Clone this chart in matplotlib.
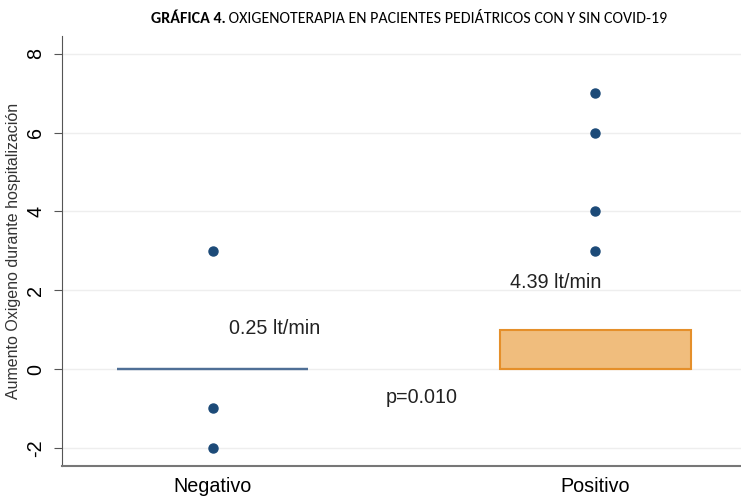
import matplotlib
matplotlib.use('Agg')
import matplotlib.pyplot as plt

# grupos y resumen de cajas (lt/min)
grupos = ['Negativo', 'Positivo']
q1 = [0, 0]
mediana = [0, 0]
q3 = [0, 1]
atipicos = [[3, -1, -2], [7, 6, 4, 3]]
promedios = ['0.25 lt/min', '4.39 lt/min']
p_valor = 'p=0.010'
y_ticks = [-2, 0, 2, 4, 6, 8]

plt.rcParams['font.family'] = ['Liberation Sans', 'DejaVu Sans']
titulo_fam = ['Carlito', 'Archivo Narrow', 'Liberation Sans', 'DejaVu Sans']

fig = plt.figure(figsize=(7.41, 4.96), dpi=100)
ax = fig.add_axes([0.0837, 0.0605, 0.9163, 0.867])

stats = []
for i, g in enumerate(grupos):
    stats.append({'label': g, 'q1': q1[i], 'med': mediana[i], 'q3': q3[i],
                  'whislo': q1[i], 'whishi': q3[i], 'fliers': atipicos[i]})

bp = ax.bxp(stats, positions=[0, 1], widths=0.5, patch_artist=True,
            showcaps=False, manage_ticks=False,
            flierprops=dict(marker='o', markerfacecolor='#1c4a78',
                            markeredgecolor='#1c4a78', markersize=6.5))
# caja del grupo negativo colapsada en la mediana
bp['boxes'][0].set(facecolor='none', edgecolor='#4f6f96', linewidth=1.6)
bp['boxes'][1].set(facecolor='#f0bd7d', edgecolor='#e58f2a', linewidth=1.5)
bp['medians'][0].set(color='#4f6f96', linewidth=1.6)
bp['medians'][1].set(color='#e58f2a', linewidth=1.5)
for w in bp['whiskers']:
    w.set_visible(False)

ax.text(0.162, 1.04, promedios[0], ha='center', va='center', fontsize=14.2, color='#222222')
ax.text(0.897, 2.19, promedios[1], ha='center', va='center', fontsize=14.2, color='#222222')
ax.text(0.545, -0.71, p_valor, ha='center', va='center', fontsize=14.2, color='#222222')

ax.set_xlim(-0.395, 1.382)
ax.set_ylim(-2.46, 8.45)
ax.set_yticks(y_ticks)
ax.set_yticklabels([str(t) for t in y_ticks], rotation=90, va='center', fontsize=14.2)
ax.set_xticks([0, 1])
ax.set_xticklabels(grupos, fontsize=14.2)
ax.tick_params(axis='x', length=0, pad=8)
ax.tick_params(axis='y', length=6, color='#555555', pad=6)
ax.yaxis.grid(True, color='#eeeeee', linewidth=1)
ax.set_axisbelow(True)
ax.set_ylabel('Aumento Oxigeno durante hospitalización', fontsize=11.5, color='#333333', labelpad=4)
for s in ['top', 'right']:
    ax.spines[s].set_visible(False)
ax.spines['left'].set_color('#555555')
ax.spines['bottom'].set_color('#777777')
ax.spines['bottom'].set_linewidth(1.5)

t1 = fig.text(0.2, 0.962, 'GRÁFICA 4.', ha='left', va='center', fontsize=11.5,
              fontweight='bold', family=titulo_fam)
t2 = fig.text(0.2, 0.962, ' OXIGENOTERAPIA EN PACIENTES PEDIÁTRICOS CON Y SIN COVID-19',
              ha='left', va='center', fontsize=11.5, family=titulo_fam)
# centrar las dos partes del título juntas
r = fig.canvas.get_renderer()
w1 = t1.get_window_extent(r).width
w2 = t2.get_window_extent(r).width
x0 = 409 - (w1 + w2) / 2
t1.set_x(x0 / 741)
t2.set_x((x0 + w1) / 741)

fig.savefig('out.png', dpi=100)
